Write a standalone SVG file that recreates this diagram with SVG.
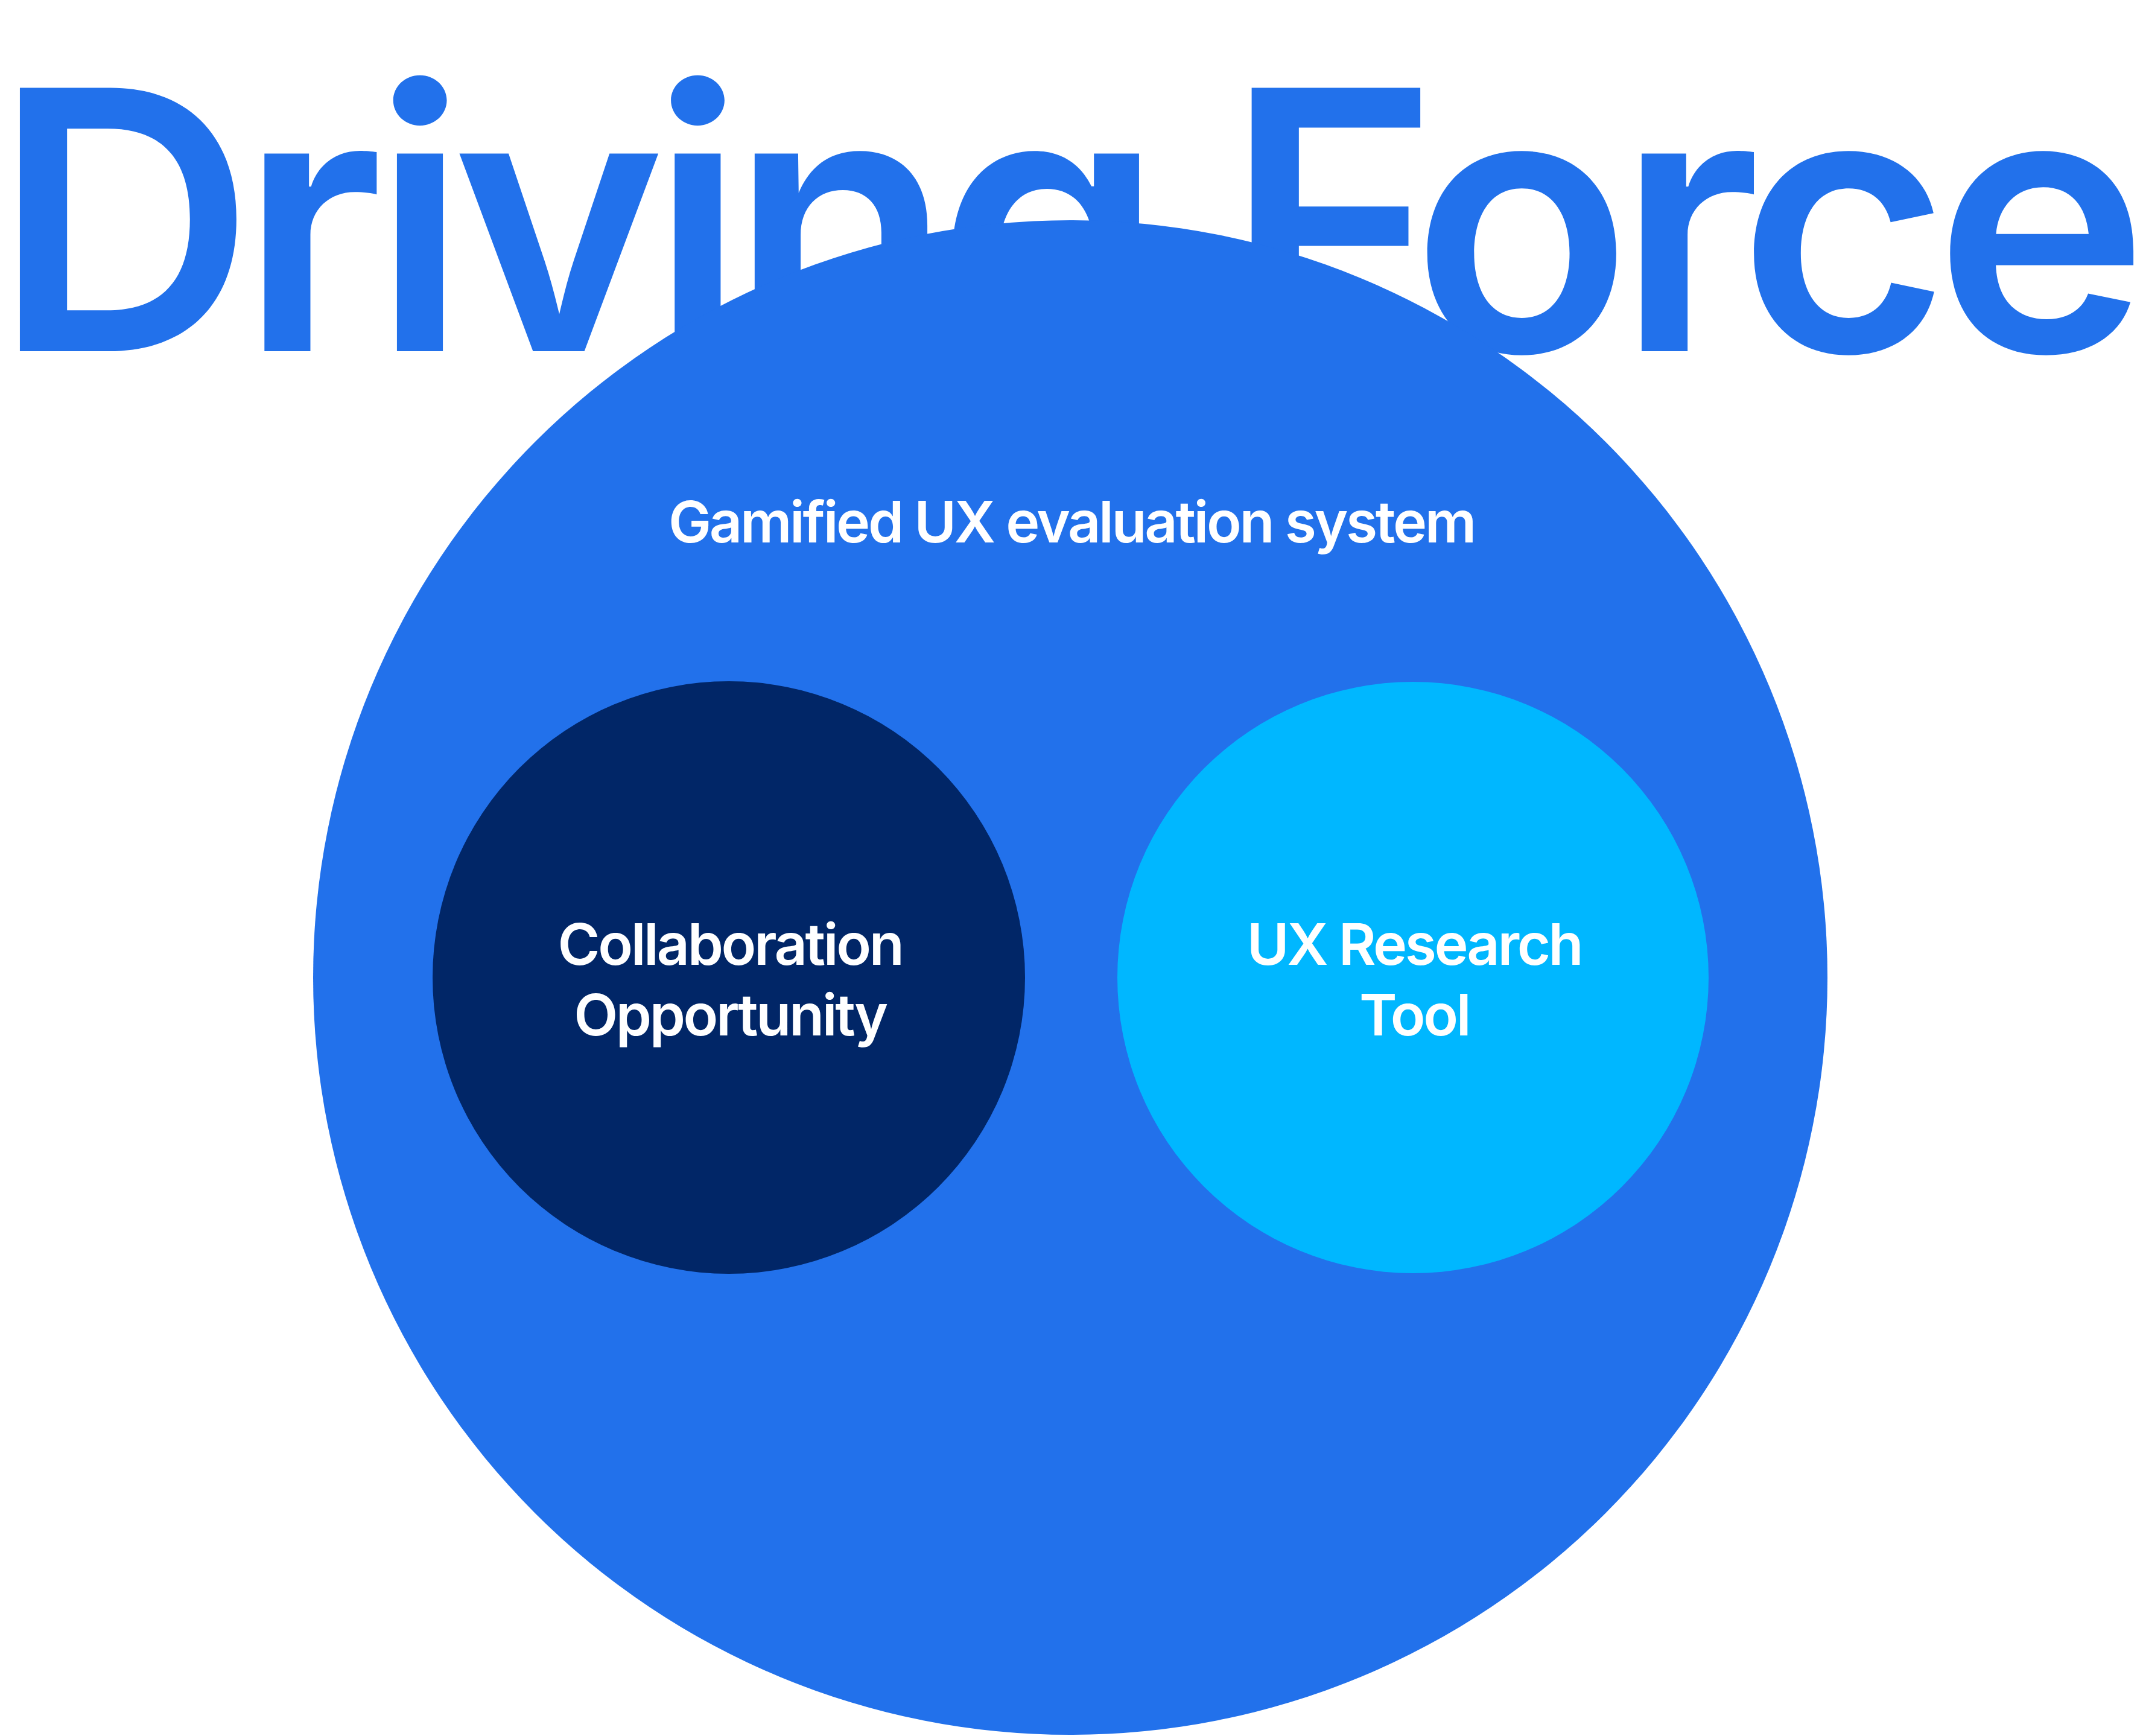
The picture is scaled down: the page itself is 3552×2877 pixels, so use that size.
<svg xmlns="http://www.w3.org/2000/svg" width="3552" height="2877" viewBox="0 0 3552 2877">
<style>
.title{font-family:Inter,"Noto Sans","Liberation Sans",sans-serif;font-weight:600;font-size:600px;fill:#2271EB}
.lbl{font-family:Inter,"Noto Sans","Liberation Sans",sans-serif;font-weight:600;font-size:95px;letter-spacing:-3.4px;fill:#FFFFFF;text-anchor:middle}
</style>
<rect width="3552" height="2877" fill="#FFFFFF"/>
<g id="title">
<text class="title" x="-11" y="582" textLength="3572" lengthAdjust="spacing">Driving Force</text>
</g>
<g id="node-gamified">
<circle cx="1774" cy="1620" r="1255" fill="#2271EB"/>
<text class="lbl" x="1776" y="899">Gamified UX evaluation system</text>
</g>
<g id="node-collaboration">
<circle cx="1208" cy="1620" r="491" fill="#012667"/>
<text class="lbl" x="1210" y="1599">Collaboration</text>
<text class="lbl" x="1210" y="1716">Opportunity</text>
</g>
<g id="node-uxresearch">
<circle cx="2342" cy="1620" r="490" fill="#00B7FF"/>
<text class="lbl" x="2344" y="1599">UX Research</text>
<text class="lbl" x="2344" y="1716">Tool</text>
</g>
<g id="connectors"/>
</svg>
